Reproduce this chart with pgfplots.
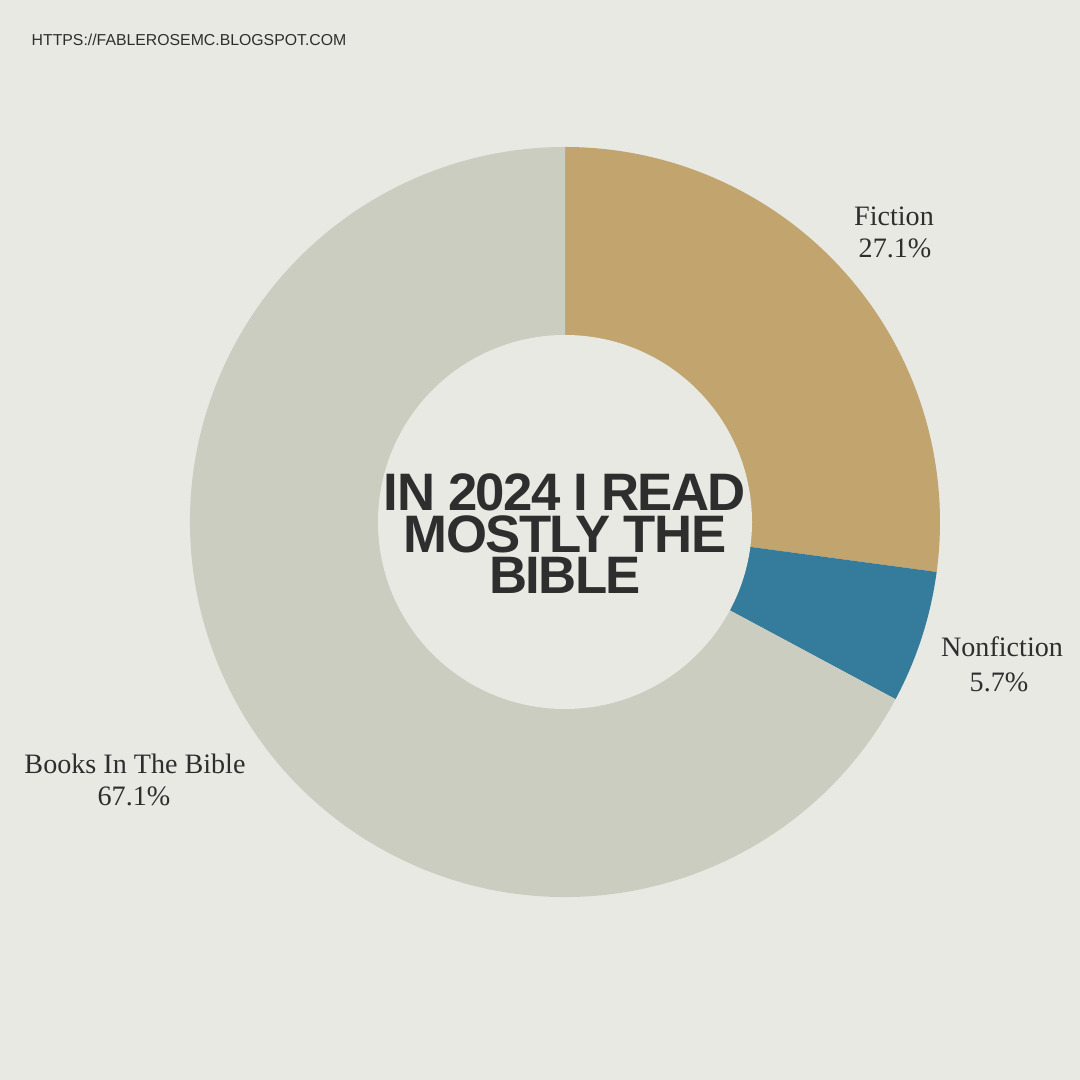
\documentclass[border=0pt]{standalone}
\usepackage{pgfplots}
\pgfplotsset{compat=1.18}
\usepackage{pgfplotstable}
\usepackage{fontspec}
\setmainfont{Liberation Serif}
\newfontfamily\sansf{Liberation Sans}
\newfontfamily\titlef[LetterSpace=-3]{Liberation Sans}
\definecolor{bg}{HTML}{E8E9E3}
\definecolor{cbible}{HTML}{CBCDC0}
\definecolor{cfic}{HTML}{C2A46F}
\definecolor{cnon}{HTML}{357B9C}
\definecolor{ctxt}{HTML}{2E2E2E}

\pgfplotstableread{
label value
Fiction 27.1
Nonfiction 5.7
Bible 67.1
}\piedata
\pgfplotstablegetelem{0}{value}\of\piedata \let\vA\pgfplotsretval
\pgfplotstablegetelem{1}{value}\of\piedata \let\vB\pgfplotsretval
\pgfplotstablegetelem{2}{value}\of\piedata \let\vC\pgfplotsretval
\pgfmathsetmacro\tot{\vA+\vB+\vC}
\pgfmathsetmacro\aA{90}
\pgfmathsetmacro\aB{\aA-\vA/\tot*360}
\pgfmathsetmacro\aC{\aB-\vB/\tot*360}
\pgfmathsetmacro\aD{\aC-\vC/\tot*360}

\begin{document}
\begin{tikzpicture}
\begin{axis}[width=10.8cm,height=10.8cm,scale only axis,
  xmin=0,xmax=1080,ymin=0,ymax=1080,hide axis,clip=false]
\fill[bg] (axis cs:0,0) rectangle (axis cs:1080,1080);
\fill[cfic] (axis cs:565,558) -- ++(\aA:3.75cm) arc[start angle=\aA,end angle=\aB,radius=3.75cm] -- cycle;
\fill[cnon] (axis cs:565,558) -- ++(\aB:3.75cm) arc[start angle=\aB,end angle=\aC,radius=3.75cm] -- cycle;
\fill[cbible] (axis cs:565,558) -- ++(\aC:3.75cm) arc[start angle=\aC,end angle=\aD,radius=3.75cm] -- cycle;
\fill[bg] (axis cs:565,558) circle[radius=1.87cm];
% title
\node[anchor=base,text=ctxt,font=\titlef\bfseries\fontsize{15}{15}\selectfont,inner sep=0pt] at (axis cs:565,569) {IN 2024 I READ};
\node[anchor=base,text=ctxt,font=\titlef\bfseries\fontsize{15}{15}\selectfont,inner sep=0pt] at (axis cs:565,527) {MOSTLY THE};
\node[anchor=base,text=ctxt,font=\titlef\bfseries\fontsize{15}{15}\selectfont,inner sep=0pt] at (axis cs:565,486) {BIBLE};
% url
\node[anchor=base west,text=ctxt,font=\sansf\fontsize{4.5}{5}\selectfont,inner sep=0pt] at (axis cs:31,1034) {HTTPS://FABLEROSEMC.BLOGSPOT.COM};
% labels
\node[anchor=base,text=ctxt,font=\fontsize{8}{9}\selectfont,inner sep=0pt] at (axis cs:894,854) {Fiction};
\node[anchor=base,text=ctxt,font=\fontsize{8}{9}\selectfont,inner sep=0pt] at (axis cs:895,822) {\vA\%};
\node[anchor=base,text=ctxt,font=\fontsize{8}{9}\selectfont,inner sep=0pt] at (axis cs:1002,423) {Nonfiction};
\node[anchor=base,text=ctxt,font=\fontsize{8}{9}\selectfont,inner sep=0pt] at (axis cs:999,388) {\vB\%};
\node[anchor=base,text=ctxt,font=\fontsize{8}{9}\selectfont,inner sep=0pt] at (axis cs:135,306) {Books In The Bible};
\node[anchor=base,text=ctxt,font=\fontsize{8}{9}\selectfont,inner sep=0pt] at (axis cs:134,274) {\vC\%};
\end{axis}
\end{tikzpicture}
\end{document}
